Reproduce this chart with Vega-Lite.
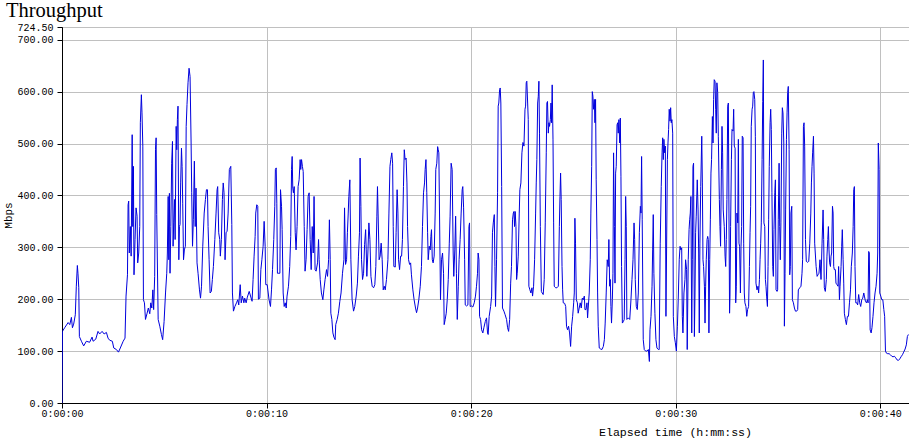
{
"$schema": "https://vega.github.io/schema/vega-lite/v6.json",
"width": 847, "height": 376,
"autosize": {"type": "none"},
"padding": {"left": 62, "top": 27, "right": 0, "bottom": 42},
"background": "white",
"title": {"text": "Throughput", "anchor": "start", "frame": "group", "dx": -56, "dy": 26, "offset": 11, "baseline": "alphabetic", "font": "Liberation Serif", "fontSize": 20.5, "fontWeight": "normal", "color": "black"},
"config": {"view": {"stroke": "black", "strokeWidth": 1}},
"data": {"values": [
{"t":0,"v":0},{"t":0.02,"v":138},{"t":0.13,"v":145},{"t":0.30,"v":155},{"t":0.38,"v":151},{"t":0.46,"v":165},{"t":0.51,"v":145},{"t":0.57,"v":152},{"t":0.65,"v":170},{"t":0.70,"v":225},{"t":0.75,"v":265},{"t":0.78,"v":250},{"t":0.82,"v":222},{"t":0.85,"v":128},{"t":0.95,"v":119},{"t":1.06,"v":110},{"t":1.19,"v":119},{"t":1.35,"v":117},{"t":1.47,"v":127},{"t":1.52,"v":119},{"t":1.65,"v":123},{"t":1.76,"v":138},{"t":1.84,"v":133},{"t":1.96,"v":138},{"t":2.06,"v":133},{"t":2.17,"v":136},{"t":2.25,"v":125},{"t":2.33,"v":121},{"t":2.46,"v":119},{"t":2.53,"v":106},{"t":2.66,"v":103},{"t":2.76,"v":98},{"t":2.85,"v":106},{"t":2.99,"v":119},{"t":3.08,"v":125},{"t":3.13,"v":206},{"t":3.20,"v":247},{"t":3.23,"v":382},{"t":3.26,"v":389},{"t":3.29,"v":289},{"t":3.34,"v":340},{"t":3.38,"v":283},{"t":3.43,"v":517},{"t":3.46,"v":340},{"t":3.49,"v":456},{"t":3.52,"v":247},{"t":3.57,"v":315},{"t":3.62,"v":376},{"t":3.67,"v":360},{"t":3.70,"v":270},{"t":3.75,"v":289},{"t":3.80,"v":340},{"t":3.83,"v":540},{"t":3.88,"v":594},{"t":3.91,"v":559},{"t":3.95,"v":495},{"t":3.98,"v":199},{"t":4.03,"v":193},{"t":4.08,"v":161},{"t":4.16,"v":173},{"t":4.22,"v":183},{"t":4.29,"v":172},{"t":4.34,"v":193},{"t":4.39,"v":183},{"t":4.44,"v":218},{"t":4.48,"v":180},
{"t":4.53,"v":244},{"t":4.57,"v":488},{"t":4.60,"v":511},{"t":4.63,"v":363},{"t":4.70,"v":161},{"t":4.78,"v":148},{"t":4.86,"v":132},{"t":4.92,"v":122},{"t":4.99,"v":157},{"t":5.06,"v":212},{"t":5.12,"v":250},{"t":5.15,"v":289},{"t":5.19,"v":398},{"t":5.22,"v":276},{"t":5.25,"v":404},{"t":5.28,"v":250},{"t":5.32,"v":340},{"t":5.36,"v":462},{"t":5.40,"v":504},{"t":5.43,"v":302},{"t":5.46,"v":347},{"t":5.50,"v":392},{"t":5.53,"v":315},{"t":5.58,"v":533},{"t":5.61,"v":488},{"t":5.64,"v":546},{"t":5.67,"v":572},{"t":5.71,"v":276},{"t":5.74,"v":340},{"t":5.77,"v":344},{"t":5.80,"v":424},{"t":5.84,"v":491},{"t":5.87,"v":456},{"t":5.90,"v":385},{"t":5.94,"v":276},{"t":5.98,"v":295},{"t":6.03,"v":302},{"t":6.07,"v":533},{"t":6.11,"v":575},{"t":6.16,"v":617},{"t":6.21,"v":645},{"t":6.26,"v":629},{"t":6.31,"v":501},{"t":6.34,"v":405},{"t":6.38,"v":302},{"t":6.42,"v":353},{"t":6.47,"v":466},{"t":6.51,"v":340},{"t":6.55,"v":414},{"t":6.60,"v":270},{"t":6.65,"v":250},{"t":6.72,"v":218},{"t":6.77,"v":202},{"t":6.82,"v":225},{"t":6.88,"v":302},{"t":6.95,"v":366},{"t":7.01,"v":392},{"t":7.06,"v":411},{"t":7.11,"v":411},{"t":7.14,"v":340},{"t":7.19,"v":276},{"t":7.24,"v":212},{"t":7.30,"v":215},{"t":7.35,"v":238},{"t":7.40,"v":263},{"t":7.47,"v":315},{"t":7.53,"v":366},{"t":7.58,"v":411},{"t":7.61,"v":417},{"t":7.66,"v":328},{"t":7.71,"v":315},{"t":7.74,"v":283},{"t":7.79,"v":315},{"t":7.84,"v":392},{"t":7.88,"v":424},{"t":7.92,"v":405},{"t":7.97,"v":276},{"t":8.02,"v":328},{"t":8.07,"v":331},{"t":8.12,"v":366},{"t":8.18,"v":450},{"t":8.25,"v":456},{"t":8.30,"v":344},{"t":8.33,"v":212},{"t":8.38,"v":177},{"t":8.45,"v":186},{"t":8.53,"v":193},{"t":8.59,"v":199},{"t":8.64,"v":189},{"t":8.71,"v":228},{"t":8.76,"v":193},{"t":8.82,"v":206},{"t":8.89,"v":193},{"t":8.93,"v":202},{"t":9.00,"v":193},{"t":9.06,"v":204},{"t":9.15,"v":215},
{"t":9.29,"v":196},{"t":9.34,"v":238},{"t":9.39,"v":283},{"t":9.44,"v":321},{"t":9.47,"v":366},{"t":9.52,"v":382},{"t":9.57,"v":379},{"t":9.60,"v":200},{"t":9.67,"v":202},{"t":9.72,"v":257},{"t":9.77,"v":276},{"t":9.83,"v":302},{"t":9.88,"v":350},{"t":9.93,"v":302},{"t":9.96,"v":228},{"t":10.03,"v":228},{"t":10.08,"v":212},{"t":10.12,"v":199},{"t":10.19,"v":186},{"t":10.24,"v":218},{"t":10.29,"v":257},{"t":10.35,"v":315},{"t":10.40,"v":379},{"t":10.43,"v":450},{"t":10.47,"v":453},{"t":10.50,"v":385},{"t":10.53,"v":250},{"t":10.60,"v":250},{"t":10.65,"v":250},{"t":10.68,"v":411},{"t":10.73,"v":379},{"t":10.76,"v":334},{"t":10.81,"v":212},{"t":10.86,"v":186},{"t":10.91,"v":193},{"t":10.96,"v":183},{"t":11.00,"v":206},{"t":11.07,"v":225},{"t":11.13,"v":263},{"t":11.18,"v":321},{"t":11.22,"v":450},{"t":11.25,"v":475},{"t":11.28,"v":414},{"t":11.31,"v":405},{"t":11.35,"v":417},{"t":11.40,"v":328},{"t":11.44,"v":295},{"t":11.49,"v":340},{"t":11.54,"v":417},{"t":11.59,"v":430},{"t":11.64,"v":469},{"t":11.67,"v":450},{"t":11.71,"v":469},{"t":11.75,"v":456},{"t":11.79,"v":446},{"t":11.84,"v":340},{"t":11.88,"v":254},{"t":11.93,"v":276},{"t":11.98,"v":334},{"t":12.03,"v":398},{"t":12.08,"v":405},{"t":12.13,"v":315},{"t":12.18,"v":257},{"t":12.23,"v":340},{"t":12.28,"v":289},{"t":12.32,"v":398},{"t":12.37,"v":257},{"t":12.42,"v":254},{"t":12.49,"v":270},{"t":12.54,"v":315},{"t":12.57,"v":276},{"t":12.62,"v":238},{"t":12.68,"v":212},{"t":12.75,"v":199},{"t":12.80,"v":218},{"t":12.86,"v":238},{"t":12.93,"v":257},{"t":12.98,"v":244},{"t":13.03,"v":276},{"t":13.07,"v":353},{"t":13.11,"v":276},{"t":13.14,"v":173},{"t":13.19,"v":161},{"t":13.24,"v":135},{"t":13.29,"v":127},{"t":13.35,"v":122},{"t":13.38,"v":151},{"t":13.45,"v":161},{"t":13.51,"v":173},{"t":13.58,"v":196},{"t":13.64,"v":212},{"t":13.71,"v":250},{"t":13.78,"v":276},{"t":13.81,"v":376},{"t":13.86,"v":267},{"t":13.91,"v":276},{"t":13.95,"v":328},{"t":13.99,"v":366},{"t":14.02,"v":398},{"t":14.07,"v":430},
{"t":14.12,"v":276},{"t":14.18,"v":199},{"t":14.25,"v":177},{"t":14.31,"v":186},{"t":14.38,"v":206},{"t":14.44,"v":231},{"t":14.49,"v":283},{"t":14.54,"v":328},{"t":14.57,"v":472},{"t":14.61,"v":379},{"t":14.64,"v":276},{"t":14.69,"v":238},{"t":14.74,"v":250},{"t":14.79,"v":305},{"t":14.84,"v":334},{"t":14.87,"v":295},{"t":14.90,"v":244},{"t":14.95,"v":289},{"t":15.00,"v":347},{"t":15.05,"v":315},{"t":15.10,"v":244},{"t":15.16,"v":225},{"t":15.23,"v":222},{"t":15.29,"v":228},{"t":15.34,"v":263},{"t":15.39,"v":360},{"t":15.42,"v":417},{"t":15.45,"v":366},{"t":15.50,"v":276},{"t":15.55,"v":283},{"t":15.60,"v":308},{"t":15.65,"v":276},{"t":15.70,"v":218},{"t":15.75,"v":225},{"t":15.80,"v":218},{"t":15.86,"v":238},{"t":15.93,"v":276},{"t":15.98,"v":366},{"t":16.03,"v":456},{"t":16.07,"v":469},{"t":16.12,"v":482},{"t":16.16,"v":462},{"t":16.19,"v":340},{"t":16.22,"v":263},{"t":16.29,"v":262},{"t":16.33,"v":328},{"t":16.38,"v":411},{"t":16.42,"v":366},{"t":16.45,"v":276},{"t":16.50,"v":257},{"t":16.55,"v":283},{"t":16.60,"v":283},{"t":16.64,"v":315},{"t":16.69,"v":417},{"t":16.73,"v":488},{"t":16.77,"v":469},{"t":16.82,"v":472},{"t":16.86,"v":424},{"t":16.89,"v":340},{"t":16.94,"v":276},{"t":16.99,"v":267},{"t":17.04,"v":270},{"t":17.08,"v":247},{"t":17.15,"v":218},{"t":17.21,"v":199},{"t":17.28,"v":183},{"t":17.33,"v":174},{"t":17.38,"v":183},{"t":17.44,"v":199},{"t":17.51,"v":225},{"t":17.57,"v":263},{"t":17.62,"v":340},{"t":17.67,"v":405},{"t":17.72,"v":424},{"t":17.75,"v":450},{"t":17.79,"v":469},{"t":17.83,"v":405},{"t":17.87,"v":328},{"t":17.90,"v":276},{"t":17.95,"v":302},{"t":18.00,"v":295},{"t":18.03,"v":321},{"t":18.06,"v":334},{"t":18.10,"v":276},{"t":18.14,"v":270},{"t":18.19,"v":283},{"t":18.24,"v":366},{"t":18.27,"v":450},{"t":18.32,"v":462},{"t":18.36,"v":494},{"t":18.39,"v":488},{"t":18.42,"v":482},
{"t":18.50,"v":199},{"t":18.55,"v":276},{"t":18.60,"v":289},{"t":18.65,"v":250},{"t":18.68,"v":151},{"t":18.73,"v":161},{"t":18.78,"v":173},{"t":18.83,"v":199},{"t":18.88,"v":238},{"t":18.93,"v":308},{"t":18.97,"v":360},{"t":19.02,"v":462},{"t":19.07,"v":450},{"t":19.12,"v":289},{"t":19.15,"v":244},{"t":19.20,"v":295},{"t":19.24,"v":360},{"t":19.28,"v":250},{"t":19.32,"v":161},{"t":19.37,"v":225},{"t":19.41,"v":276},{"t":19.46,"v":315},{"t":19.51,"v":366},{"t":19.56,"v":411},{"t":19.59,"v":417},{"t":19.63,"v":376},{"t":19.68,"v":276},{"t":19.71,"v":189},{"t":19.77,"v":187},{"t":19.84,"v":189},{"t":19.89,"v":340},{"t":19.92,"v":347},{"t":19.95,"v":186},{"t":20.02,"v":187},{"t":20.08,"v":185},{"t":20.15,"v":193},{"t":20.21,"v":206},{"t":20.26,"v":225},{"t":20.31,"v":250},{"t":20.34,"v":289},{"t":20.38,"v":276},{"t":20.41,"v":167},{"t":20.46,"v":161},{"t":20.51,"v":141},{"t":20.57,"v":135},{"t":20.62,"v":145},{"t":20.69,"v":157},{"t":20.75,"v":164},{"t":20.80,"v":135},{"t":20.83,"v":132},{"t":20.88,"v":167},{"t":20.95,"v":186},{"t":21.00,"v":206},{"t":21.04,"v":328},{"t":21.08,"v":347},{"t":21.13,"v":363},{"t":21.16,"v":263},{"t":21.19,"v":186},{"t":21.24,"v":276},{"t":21.29,"v":405},{"t":21.32,"v":572},{"t":21.35,"v":578},{"t":21.39,"v":604},{"t":21.42,"v":607},{"t":21.45,"v":578},{"t":21.49,"v":417},{"t":21.53,"v":183},{"t":21.60,"v":177},{"t":21.66,"v":170},{"t":21.73,"v":161},{"t":21.78,"v":145},{"t":21.83,"v":138},{"t":21.88,"v":161},{"t":21.93,"v":231},{"t":21.97,"v":263},{"t":22.02,"v":353},{"t":22.06,"v":366},{"t":22.09,"v":369},{"t":22.12,"v":340},{"t":22.15,"v":369},{"t":22.19,"v":340},{"t":22.22,"v":238},{"t":22.25,"v":250},{"t":22.30,"v":283},{"t":22.35,"v":366},{"t":22.38,"v":411},{"t":22.43,"v":424},{"t":22.48,"v":482},{"t":22.53,"v":502},{"t":22.58,"v":495},{"t":22.63,"v":566},{"t":22.66,"v":572},{"t":22.69,"v":617},{"t":22.72,"v":620},{"t":22.76,"v":578},{"t":22.79,"v":546},{"t":22.82,"v":225},{"t":22.87,"v":218},{"t":22.92,"v":212},{"t":22.97,"v":222},{"t":23.00,"v":206},{"t":23.05,"v":225},{"t":23.10,"v":276},{"t":23.15,"v":366},{"t":23.18,"v":424},{"t":23.21,"v":469},{"t":23.25,"v":578},{"t":23.28,"v":591},{"t":23.31,"v":620},{"t":23.34,"v":520},
{"t":23.38,"v":340},{"t":23.43,"v":215},{"t":23.47,"v":212},{"t":23.52,"v":209},{"t":23.57,"v":238},{"t":23.62,"v":347},{"t":23.67,"v":482},{"t":23.70,"v":578},{"t":23.73,"v":581},{"t":23.77,"v":520},{"t":23.80,"v":540},{"t":23.83,"v":533},{"t":23.87,"v":546},{"t":23.90,"v":578},{"t":23.93,"v":540},{"t":23.96,"v":613},{"t":24.00,"v":507},{"t":24.03,"v":347},{"t":24.06,"v":225},{"t":24.13,"v":222},{"t":24.19,"v":222},{"t":24.26,"v":225},{"t":24.31,"v":340},{"t":24.34,"v":398},{"t":24.37,"v":443},{"t":24.40,"v":392},{"t":24.44,"v":263},{"t":24.47,"v":218},{"t":24.50,"v":193},{"t":24.57,"v":192},{"t":24.62,"v":186},{"t":24.66,"v":148},{"t":24.71,"v":141},{"t":24.76,"v":148},{"t":24.81,"v":135},{"t":24.86,"v":109},{"t":24.91,"v":148},{"t":24.96,"v":167},{"t":25.01,"v":193},{"t":25.04,"v":212},{"t":25.07,"v":356},{"t":25.10,"v":308},{"t":25.14,"v":199},{"t":25.19,"v":193},{"t":25.23,"v":173},{"t":25.28,"v":183},{"t":25.33,"v":193},{"t":25.38,"v":183},{"t":25.43,"v":202},{"t":25.48,"v":199},{"t":25.53,"v":206},{"t":25.56,"v":180},{"t":25.61,"v":180},{"t":25.66,"v":193},{"t":25.69,"v":164},{"t":25.72,"v":183},{"t":25.77,"v":212},{"t":25.82,"v":276},{"t":25.85,"v":366},{"t":25.89,"v":456},{"t":25.92,"v":600},{"t":25.95,"v":591},{"t":25.98,"v":566},{"t":26.02,"v":585},{"t":26.05,"v":540},{"t":26.08,"v":585},{"t":26.11,"v":430},{"t":26.15,"v":315},{"t":26.18,"v":212},{"t":26.21,"v":148},{"t":26.26,"v":106},{"t":26.33,"v":104},{"t":26.39,"v":103},{"t":26.46,"v":109},{"t":26.51,"v":122},{"t":26.55,"v":154},{"t":26.60,"v":212},{"t":26.65,"v":276},{"t":26.70,"v":263},{"t":26.73,"v":315},{"t":26.77,"v":225},{"t":26.80,"v":238},{"t":26.83,"v":186},{"t":26.86,"v":154},{"t":26.90,"v":199},{"t":26.93,"v":250},{"t":26.96,"v":482},{"t":27.00,"v":340},{"t":27.03,"v":231},{"t":27.06,"v":443},{"t":27.09,"v":456},{"t":27.13,"v":536},{"t":27.16,"v":540},{"t":27.19,"v":520},{"t":27.22,"v":546},{"t":27.26,"v":501},{"t":27.29,"v":549},{"t":27.32,"v":437},{"t":27.35,"v":263},{"t":27.39,"v":154},{"t":27.44,"v":157},{"t":27.48,"v":161},{"t":27.52,"v":276},{"t":27.55,"v":398},{"t":27.58,"v":340},{"t":27.61,"v":161},{"t":27.68,"v":164},{"t":27.75,"v":161},
{"t":27.81,"v":199},{"t":27.86,"v":238},{"t":27.91,"v":276},{"t":27.96,"v":347},{"t":27.99,"v":315},{"t":28.02,"v":238},{"t":28.07,"v":186},{"t":28.12,"v":180},{"t":28.17,"v":212},{"t":28.22,"v":328},{"t":28.27,"v":379},{"t":28.30,"v":366},{"t":28.33,"v":475},{"t":28.36,"v":353},{"t":28.41,"v":122},{"t":28.46,"v":103},{"t":28.53,"v":100},{"t":28.59,"v":100},{"t":28.66,"v":103},{"t":28.71,"v":80},{"t":28.74,"v":141},{"t":28.79,"v":167},{"t":28.84,"v":225},{"t":28.87,"v":295},{"t":28.90,"v":363},{"t":28.93,"v":250},{"t":28.98,"v":173},{"t":29.03,"v":122},{"t":29.08,"v":106},{"t":29.15,"v":103},{"t":29.19,"v":103},{"t":29.24,"v":308},{"t":29.29,"v":417},{"t":29.33,"v":482},{"t":29.36,"v":511},{"t":29.39,"v":469},{"t":29.42,"v":508},{"t":29.46,"v":482},{"t":29.49,"v":495},{"t":29.52,"v":167},{"t":29.55,"v":289},{"t":29.59,"v":469},{"t":29.62,"v":501},{"t":29.65,"v":527},{"t":29.68,"v":566},{"t":29.72,"v":543},{"t":29.75,"v":569},{"t":29.78,"v":540},{"t":29.81,"v":546},{"t":29.85,"v":520},{"t":29.88,"v":167},{"t":29.93,"v":128},{"t":29.98,"v":116},{"t":30.03,"v":100},{"t":30.08,"v":148},{"t":30.12,"v":199},{"t":30.17,"v":276},{"t":30.21,"v":302},{"t":30.25,"v":295},{"t":30.29,"v":299},{"t":30.32,"v":167},{"t":30.35,"v":135},{"t":30.40,"v":212},{"t":30.45,"v":238},{"t":30.48,"v":276},{"t":30.53,"v":257},{"t":30.56,"v":103},{"t":30.61,"v":276},{"t":30.65,"v":334},{"t":30.68,"v":353},{"t":30.71,"v":366},{"t":30.74,"v":398},{"t":30.78,"v":135},{"t":30.81,"v":276},{"t":30.84,"v":456},{"t":30.87,"v":462},{"t":30.91,"v":128},{"t":30.94,"v":212},{"t":30.97,"v":328},{"t":31.00,"v":360},{"t":31.05,"v":430},{"t":31.09,"v":372},{"t":31.12,"v":289},{"t":31.15,"v":135},{"t":31.18,"v":308},{"t":31.22,"v":417},{"t":31.27,"v":514},{"t":31.30,"v":424},{"t":31.33,"v":276},{"t":31.36,"v":263},{"t":31.40,"v":225},{"t":31.43,"v":154},{"t":31.46,"v":225},{"t":31.49,"v":276},{"t":31.53,"v":315},{"t":31.56,"v":321},{"t":31.59,"v":315},{"t":31.62,"v":135},{"t":31.66,"v":276},{"t":31.69,"v":353},{"t":31.72,"v":443},{"t":31.75,"v":469},{"t":31.79,"v":552},{"t":31.82,"v":501},{"t":31.85,"v":585},{"t":31.88,"v":623},{"t":31.92,"v":620},{"t":31.95,"v":566},{"t":31.98,"v":520},{"t":32.01,"v":617},{"t":32.05,"v":598},{"t":32.08,"v":514},{"t":32.13,"v":392},{"t":32.16,"v":340},{"t":32.19,"v":302},{"t":32.23,"v":450},{"t":32.26,"v":533},{"t":32.29,"v":482},{"t":32.32,"v":372},{"t":32.37,"v":340},{"t":32.41,"v":283},{"t":32.44,"v":263},{"t":32.47,"v":315},{"t":32.50,"v":392},{"t":32.54,"v":572},{"t":32.57,"v":578},{"t":32.60,"v":366},{"t":32.63,"v":173},
{"t":32.65,"v":206},{"t":32.68,"v":340},{"t":32.72,"v":469},{"t":32.75,"v":527},{"t":32.80,"v":524},{"t":32.83,"v":566},{"t":32.86,"v":495},{"t":32.90,"v":491},{"t":32.93,"v":193},{"t":32.96,"v":225},{"t":32.99,"v":366},{"t":33.03,"v":347},{"t":33.06,"v":508},{"t":33.09,"v":308},{"t":33.12,"v":302},{"t":33.16,"v":212},{"t":33.19,"v":302},{"t":33.22,"v":340},{"t":33.25,"v":514},{"t":33.29,"v":511},{"t":33.32,"v":308},{"t":33.35,"v":212},{"t":33.38,"v":193},{"t":33.43,"v":186},{"t":33.47,"v":167},{"t":33.51,"v":180},{"t":33.56,"v":186},{"t":33.60,"v":263},{"t":33.63,"v":328},{"t":33.66,"v":379},{"t":33.69,"v":533},{"t":33.73,"v":566},{"t":33.76,"v":572},{"t":33.79,"v":598},{"t":33.82,"v":600},{"t":33.86,"v":585},{"t":33.89,"v":514},{"t":33.92,"v":231},{"t":33.97,"v":218},{"t":34.02,"v":225},{"t":34.05,"v":212},{"t":34.09,"v":238},{"t":34.12,"v":276},{"t":34.15,"v":308},{"t":34.18,"v":347},{"t":34.22,"v":469},{"t":34.25,"v":581},{"t":34.28,"v":661},{"t":34.31,"v":347},{"t":34.35,"v":340},{"t":34.38,"v":238},{"t":34.41,"v":225},{"t":34.44,"v":206},{"t":34.48,"v":186},{"t":34.51,"v":263},{"t":34.54,"v":353},{"t":34.57,"v":456},{"t":34.61,"v":540},{"t":34.64,"v":566},{"t":34.67,"v":527},{"t":34.70,"v":405},{"t":34.74,"v":263},{"t":34.77,"v":244},{"t":34.80,"v":334},{"t":34.84,"v":405},{"t":34.87,"v":430},{"t":34.90,"v":218},{"t":34.95,"v":215},{"t":34.98,"v":218},{"t":35.01,"v":353},{"t":35.05,"v":462},{"t":35.08,"v":340},{"t":35.11,"v":276},{"t":35.14,"v":347},{"t":35.18,"v":520},{"t":35.21,"v":569},{"t":35.24,"v":559},{"t":35.28,"v":501},{"t":35.31,"v":148},{"t":35.34,"v":250},{"t":35.37,"v":372},{"t":35.41,"v":508},{"t":35.44,"v":559},{"t":35.47,"v":598},{"t":35.50,"v":610},{"t":35.54,"v":488},{"t":35.57,"v":247},{"t":35.60,"v":263},{"t":35.63,"v":366},{"t":35.67,"v":379},{"t":35.70,"v":199},{"t":35.75,"v":193},{"t":35.80,"v":183},{"t":35.85,"v":177},{"t":35.91,"v":177},{"t":35.96,"v":180},{"t":35.99,"v":218},{"t":36.06,"v":222},{"t":36.12,"v":225},{"t":36.17,"v":250},{"t":36.20,"v":276},{"t":36.24,"v":533},{"t":36.27,"v":540},{"t":36.30,"v":495},{"t":36.34,"v":315},{"t":36.38,"v":273},{"t":36.45,"v":271},{"t":36.50,"v":273},{"t":36.55,"v":308},{"t":36.60,"v":366},{"t":36.63,"v":424},{"t":36.66,"v":456},{"t":36.69,"v":482},{"t":36.73,"v":514},{"t":36.76,"v":443},{"t":36.79,"v":308},
{"t":36.86,"v":263},{"t":36.91,"v":244},{"t":36.95,"v":247},{"t":37.00,"v":250},{"t":37.05,"v":276},{"t":37.10,"v":238},{"t":37.15,"v":308},{"t":37.20,"v":372},{"t":37.23,"v":315},{"t":37.26,"v":222},{"t":37.31,"v":215},{"t":37.36,"v":238},{"t":37.39,"v":283},{"t":37.43,"v":315},{"t":37.46,"v":340},{"t":37.49,"v":295},{"t":37.52,"v":270},{"t":37.56,"v":263},{"t":37.59,"v":283},{"t":37.62,"v":289},{"t":37.66,"v":379},{"t":37.69,"v":366},{"t":37.72,"v":263},{"t":37.75,"v":257},{"t":37.80,"v":257},{"t":37.83,"v":231},{"t":37.88,"v":228},{"t":37.93,"v":225},{"t":37.96,"v":263},{"t":38.00,"v":199},{"t":38.03,"v":225},{"t":38.08,"v":263},{"t":38.11,"v":302},{"t":38.14,"v":334},{"t":38.18,"v":276},{"t":38.21,"v":231},{"t":38.24,"v":173},{"t":38.29,"v":161},{"t":38.34,"v":151},{"t":38.39,"v":167},{"t":38.44,"v":167},{"t":38.49,"v":193},{"t":38.54,"v":218},{"t":38.58,"v":263},{"t":38.63,"v":289},{"t":38.67,"v":340},{"t":38.70,"v":411},{"t":38.73,"v":417},{"t":38.76,"v":263},{"t":38.80,"v":193},{"t":38.85,"v":193},{"t":38.89,"v":189},{"t":38.94,"v":209},{"t":38.99,"v":193},{"t":39.04,"v":186},{"t":39.09,"v":199},{"t":39.14,"v":202},{"t":39.19,"v":212},{"t":39.22,"v":206},{"t":39.27,"v":196},{"t":39.32,"v":193},{"t":39.37,"v":199},{"t":39.40,"v":193},{"t":39.43,"v":292},{"t":39.46,"v":289},{"t":39.50,"v":141},{"t":39.55,"v":135},{"t":39.59,"v":145},{"t":39.64,"v":167},{"t":39.69,"v":193},{"t":39.74,"v":212},{"t":39.79,"v":225},{"t":39.84,"v":250},{"t":39.87,"v":289},{"t":39.90,"v":501},{"t":39.94,"v":450},{"t":39.97,"v":212},{"t":40.02,"v":206},{"t":40.07,"v":199},{"t":40.12,"v":199},{"t":40.17,"v":180},{"t":40.21,"v":167},{"t":40.25,"v":100},{"t":40.30,"v":96},{"t":40.36,"v":95},{"t":40.43,"v":95},{"t":40.49,"v":93},{"t":40.56,"v":90},{"t":40.62,"v":89},{"t":40.69,"v":90},{"t":40.75,"v":87},{"t":40.82,"v":83},{"t":40.88,"v":82},{"t":40.95,"v":85},{"t":41.01,"v":89},{"t":41.08,"v":93},{"t":41.14,"v":98},{"t":41.21,"v":104},{"t":41.27,"v":112},{"t":41.32,"v":128},{"t":41.37,"v":132}
]},
"mark": {"type": "line", "color": "#0000dd", "strokeWidth": 1, "clip": true},
"encoding": {
"x": {"field": "t", "type": "quantitative", "scale": {"domain": [0, 41.4], "nice": false, "zero": false},
 "axis": {"values": [0, 10, 20, 30, 40], "labelExpr": "'0:00:' + (datum.value < 10 ? '0' : '') + datum.value", "title": "Elapsed time (h:mm:ss)", "titleFont": "Liberation Mono", "titleFontSize": 11.6, "titleFontWeight": "normal", "titleColor": "black", "titleX": 613, "titleY": 32, "titleAlign": "center", "titleBaseline": "alphabetic", "labelFont": "Liberation Mono", "labelFontSize": 10, "labelColor": "black", "labelPadding": 0, "labelFlush": false, "tickSize": 5, "tickColor": "black", "domainColor": "black", "gridColor": "#c0c0c0", "gridWidth": 1}},
"y": {"field": "v", "type": "quantitative", "scale": {"domain": [0, 724.5], "nice": false},
 "axis": {"values": [0, 100, 200, 300, 400, 500, 600, 700, 724.5], "format": ".2f", "labelOverlap": false, "labelBound": false, "labelFlush": false, "title": "Mbps", "titleFont": "Liberation Mono", "titleFontSize": 11, "titleFontWeight": "normal", "titleColor": "black", "titleX": -49, "labelFont": "Liberation Mono", "labelFontSize": 10, "labelColor": "black", "labelPadding": 4, "tickSize": 5, "tickColor": "black", "domainColor": "black", "gridColor": "#c0c0c0", "gridWidth": 1}}
}
}
